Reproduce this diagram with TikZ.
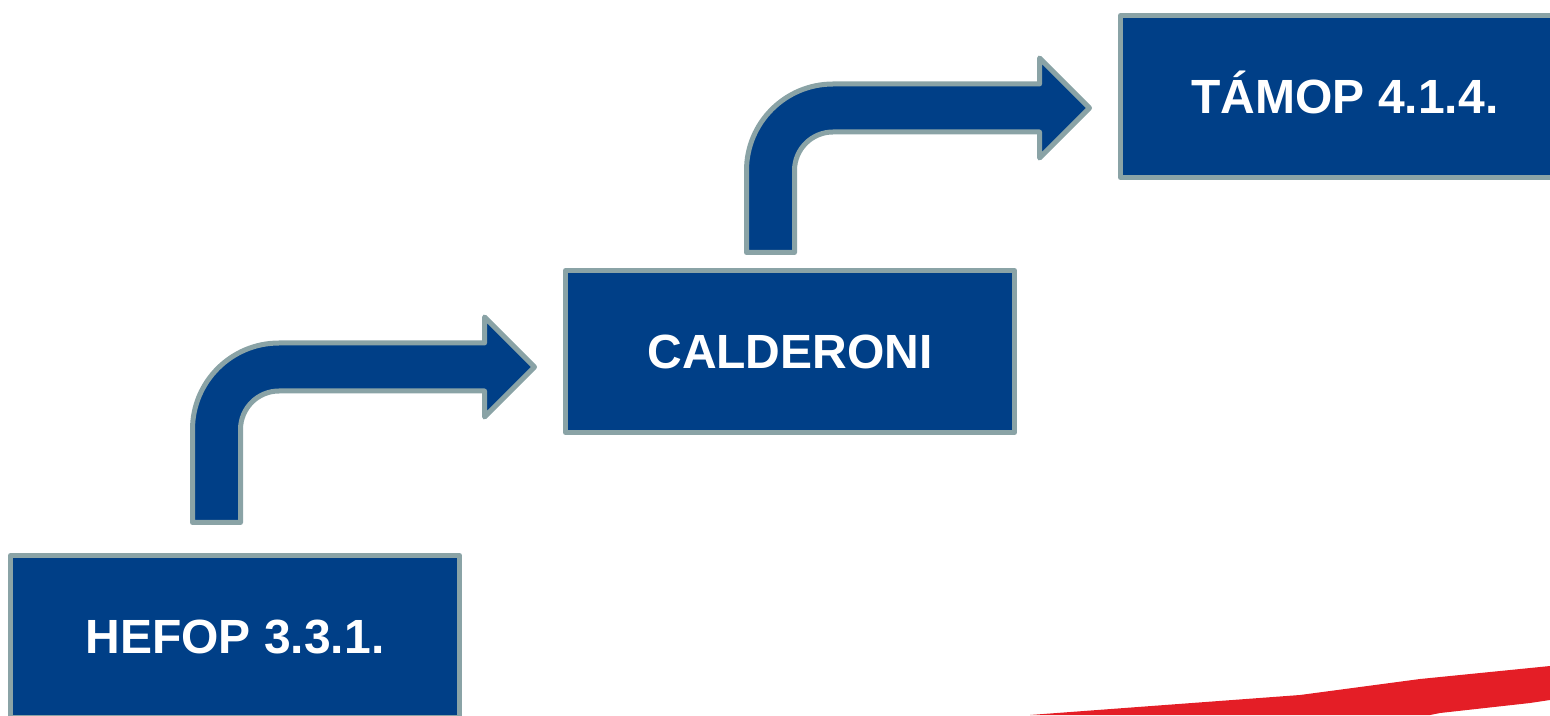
\documentclass[tikz,border=0pt]{standalone}
\usepackage{fontspec}
\setmainfont{Liberation Sans}
\usetikzlibrary{calc}

\definecolor{boxfill}{RGB}{0,63,135}
\definecolor{boxline}{RGB}{138,163,166}
\definecolor{swoosh}{RGB}{228,30,38}

\newcommand{\bentarrow}[2]{%
  \draw[barrow] (#1) -- ($(#1 |- #2)+(0,-62.5)$)
    arc[start angle=180, end angle=90, radius=86.5]
    -- ($(#2)+(-50,24)$) -- ++(0,26) -- (#2)
    -- ($(#2)+(-50,-50)$) -- ++(0,26)
    -- ($(#1 |- #2)+(86.5,-24)$)
    arc[start angle=90, end angle=180, radius=38.5]
    -- ($(#1)+(48,0)$) -- cycle;}

\begin{document}
\begin{tikzpicture}
  [
    x=1pt, y=1pt,
    block/.style =
      {draw=boxline, fill=boxfill, line width=5pt, line join=round,
       minimum width=449pt, minimum height=162pt, outer sep=0pt,
       inner sep=0pt, text=white, text height=34pt, text depth=0pt,
       font=\fontsize{48}{56}\selectfont\bfseries},
    barrow/.style =
      {draw=boxline, fill=boxfill, line width=5pt, line join=round}
  ]

\useasboundingbox (0,0) rectangle (1550,715);
\clip (0,0) rectangle (1550,715);

\node[block] (hefop) at (235,78.5)   {HEFOP 3.3.1.};
\node[block] (cald)  at (790,363.5)  {CALDERONI};
\node[block] (tamop) at (1345,618.5) {TÁMOP 4.1.4.};

\coordinate (s1) at ($(hefop.north)+(-42.5,33)$);
\coordinate (t1) at ($(cald.west)+(-31,-15.5)$);
\coordinate (s2) at ($(cald.north)+(-43.5,18)$);
\coordinate (t2) at ($(tamop.west)+(-31,-11.5)$);

\bentarrow{s1}{t1}
\bentarrow{s2}{t2}

\fill[swoosh] (1030,0) -- (1300,20) -- (1420,36) -- (1550,49)
  -- (1550,15) -- (1530,12) -- (1440,2) -- (1430,0) -- cycle;

\end{tikzpicture}
\end{document}
